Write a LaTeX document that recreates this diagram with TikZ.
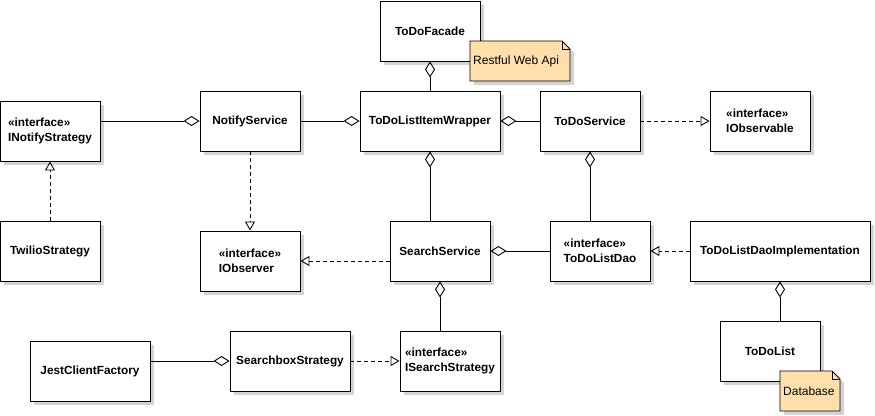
\documentclass[tikz,border=0pt]{standalone}
\usepackage{fontspec}
\setmainfont{Liberation Sans}
\usetikzlibrary{
    arrows.meta,
    shadows
}
\tikzset{
    % Colors
    note color/.style={fill={rgb,255:red,255;green,224;blue,173}},
    box shadow/.style={drop shadow={shadow xshift=4pt,shadow yshift=-4pt,fill=black!17,opacity=1}},
    %
    % Boxes
    uml box/.style={draw,fill=white,line width=.9pt,box shadow,
        minimum width=100pt,minimum height=60pt,inner sep=0pt,
        align=left,font=\bfseries\fontsize{11.8}{15}\selectfont},
    note box/.style={draw,note color,line width=.9pt,box shadow},
    note text/.style={anchor=west,inner sep=0pt,font=\fontsize{12}{15}\selectfont},
    %
    % Arrows
    aggr tip/.tip={Diamond[open,length=16pt,width=10pt]},
    real tip/.tip={Triangle[open,length=9pt,width=10pt]},
    aggr/.style={-{aggr tip},line width=.9pt},
    real/.style={-{real tip},line width=.9pt,dash pattern=on 4pt off 3pt}
}

\begin{document}
\begin{tikzpicture}[x=1pt,y=-1pt]
    \useasboundingbox (0,0) rectangle (875,415);

    % classes
    \node[uml box] (facade) at (430,31) {ToDoFacade};
    \node[uml box] (inotify) at (50,131) {«interface»\\INotifyStrategy};
    \node[uml box] (notify) at (250,121) {NotifyService};
    \node[uml box,minimum width=140pt] (wrapper) at (430,121) {ToDoListItemWrapper};
    \node[uml box] (todoservice) at (590,121) {ToDoService};
    \node[uml box] (iobservable) at (760,121) {«interface»\\IObservable};
    \node[uml box] (twilio) at (50,251) {TwilioStrategy};
    \node[uml box] (iobserver) at (250,261) {«interface»\\IObserver};
    \node[uml box] (search) at (440,251) {SearchService};
    \node[uml box] (dao) at (600,251) {«interface»\\ToDoListDao};
    \node[uml box,minimum width=180pt] (daoimpl) at (780,251) {ToDoListDaoImplementation};
    \node[uml box] (todolist) at (770,351) {ToDoList};
    \node[uml box,minimum width=120pt] (jest) at (90,371) {JestClientFactory};
    \node[uml box,minimum width=120pt] (searchbox) at (290,361) {SearchboxStrategy};
    \node[uml box] (isearch) at (450,361) {«interface»\\ISearchStrategy};

    % aggregations
    \draw[aggr] (inotify.east |- notify.west) -- (notify.west);
    \draw[aggr] (notify.east) -- (wrapper.west);
    \draw[aggr] (wrapper.north) -- (facade.south);
    \draw[aggr] (todoservice.west) -- (wrapper.east);
    \draw[aggr] (wrapper.south |- search.north) -- (wrapper.south);
    \draw[aggr] (todoservice.south |- dao.north) -- (todoservice.south);
    \draw[aggr] (dao.west) -- (search.east);
    \draw[aggr] (search.south |- isearch.north) -- (search.south);
    \draw[aggr] (daoimpl.south |- todolist.north) -- (daoimpl.south);
    \draw[aggr] (jest.east |- searchbox.west) -- (searchbox.west);

    % realizations
    \draw[real] (todoservice.east) -- (iobservable.west);
    \draw[real] (twilio.north) -- (inotify.south);
    \draw[real] (notify.south) -- (iobserver.north);
    \draw[real] (search.west |- iobserver.east) -- (iobserver.east);
    \draw[real] (daoimpl.west) -- (dao.east);
    \draw[real] (searchbox.east) -- (isearch.west);

    % notes
    \draw[note box] (470,41) -- (562,41) -- (570,49) -- (570,81) -- (470,81) -- cycle;
    \draw[line width=.9pt] (562,41) -- (562,49) -- (570,49);
    \node[note text] (webapi) at (473,61) {Restful Web Api};
    \draw[note box] (780,371) -- (832,371) -- (840,379) -- (840,411) -- (780,411) -- cycle;
    \draw[line width=.9pt] (832,371) -- (832,379) -- (840,379);
    \node[note text] (database) at (783,391) {Database};
\end{tikzpicture}
\end{document}
